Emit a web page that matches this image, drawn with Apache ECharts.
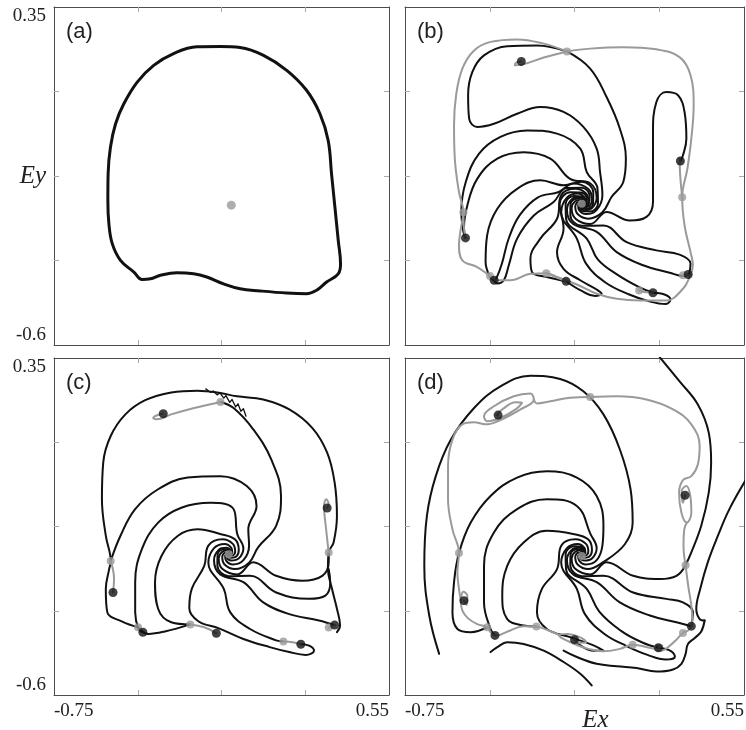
<!DOCTYPE html>
<html><head><meta charset="utf-8">
<script src="https://cdn.jsdelivr.net/npm/echarts@6.0.0/dist/echarts.min.js"></script>
<style>html,body{margin:0;padding:0;background:#fff}#chart{width:746px;height:730px}</style>
</head><body><div id="chart"></div>
<script>
// ---------- axis values ----------
const xTickValues = [-0.425, -0.1, 0.225];
const yTickValues = [0.1125, -0.125, -0.3625];
const xEndValues = [-0.75, 0.55];
const yEndValues = [0.35, -0.6];
const panelLabels = ['(a)', '(b)', '(c)', '(d)'];

// ---------- panel (a) ----------
const aLimitCycle = [[-0.105,0.239],[-0.028,0.236],[0.063,0.214],[0.153,0.172],[0.230,0.116],[0.282,0.050],[0.314,-0.025],[0.327,-0.119],[0.340,-0.212],[0.353,-0.306],[0.362,-0.372],[0.353,-0.400],[0.308,-0.423],[0.269,-0.446],[0.230,-0.456],[0.153,-0.454],[0.050,-0.448],[-0.028,-0.442],[-0.092,-0.428],[-0.157,-0.409],[-0.208,-0.400],[-0.273,-0.397],[-0.337,-0.404],[-0.376,-0.414],[-0.408,-0.416],[-0.440,-0.395],[-0.492,-0.362],[-0.524,-0.315],[-0.537,-0.259],[-0.541,-0.193],[-0.540,-0.119],[-0.531,-0.044],[-0.511,0.022],[-0.479,0.078],[-0.427,0.139],[-0.363,0.186],[-0.286,0.219],[-0.195,0.238],[-0.105,0.239]];
const aFixedPoint = [[-0.062,-0.207]];

// ---------- shared spiral core (read near the focus) ----------
const spiralCenter = [-0.072,-0.203];
const innerSpiralByDir = [
 [[-0.083,-0.195],[-0.099,-0.203],[-0.102,-0.225],[-0.072,-0.248],[-0.012,-0.247]],
 [[-0.086,-0.199],[-0.097,-0.211],[-0.088,-0.232],[-0.048,-0.245],[0.007,-0.227]],
 [[-0.088,-0.203],[-0.091,-0.217],[-0.072,-0.234],[-0.028,-0.235],[0.013,-0.203]],
 [[-0.086,-0.207],[-0.082,-0.221],[-0.056,-0.232],[-0.015,-0.220],[0.007,-0.179]],
 [[-0.083,-0.211],[-0.072,-0.223],[-0.042,-0.225],[-0.010,-0.203],[-0.012,-0.159]],
 [[-0.078,-0.213],[-0.062,-0.221],[-0.033,-0.215],[-0.015,-0.186],[-0.039,-0.146]],
 [[-0.072,-0.214],[-0.053,-0.217],[-0.029,-0.203],[-0.028,-0.171],[-0.072,-0.141]],
 [[-0.066,-0.213],[-0.047,-0.211],[-0.033,-0.191],[-0.048,-0.161],[-0.105,-0.146]],
 [[-0.061,-0.211],[-0.045,-0.203],[-0.042,-0.181],[-0.072,-0.158],[-0.132,-0.159]],
 [[-0.058,-0.207],[-0.047,-0.196],[-0.056,-0.174],[-0.096,-0.161],[-0.151,-0.179]],
 [[-0.057,-0.203],[-0.053,-0.189],[-0.072,-0.172],[-0.116,-0.171],[-0.157,-0.203]],
 [[-0.058,-0.199],[-0.062,-0.185],[-0.088,-0.174],[-0.129,-0.186],[-0.151,-0.227]],
 [[-0.061,-0.195],[-0.072,-0.183],[-0.102,-0.181],[-0.134,-0.203],[-0.132,-0.247]],
 [[-0.066,-0.193],[-0.082,-0.185],[-0.111,-0.191],[-0.129,-0.220],[-0.105,-0.260]],
 [[-0.072,-0.192],[-0.091,-0.189],[-0.115,-0.203],[-0.116,-0.235],[-0.072,-0.265]],
 [[-0.078,-0.193],[-0.097,-0.196],[-0.111,-0.215],[-0.096,-0.245],[-0.039,-0.260]]
];

// ---------- panel (b) ----------
const bArmDirs = [1,3,15,14,13,12,11,10,9,8,6,5,4,7];
const bArmPaths = [
 [[0.042,-0.184],[0.087,-0.142],[0.097,-0.076],[0.074,0.008],[0.023,0.097],[-0.040,0.177],[-0.129,0.225]],
 [[-0.002,-0.114],[-0.015,-0.048],[-0.066,0.013],[-0.142,0.055],[-0.231,0.069],[-0.320,0.050],[-0.409,0.022],[-0.473,0.013],[-0.504,0.036],[-0.508,0.102],[-0.492,0.167],[-0.447,0.214],[-0.358,0.240],[-0.244,0.242],[-0.129,0.225]],
 [[0.023,-0.226],[0.112,-0.250],[0.176,-0.240],[0.201,-0.198],[0.201,-0.114],[0.201,-0.001],[0.214,0.083],[0.252,0.111],[0.297,0.102],[0.322,0.055],[0.329,-0.020],[0.316,-0.067],[0.306,-0.083]],
 [[0.011,-0.264],[0.100,-0.311],[0.214,-0.334],[0.303,-0.346],[0.345,-0.371],[0.341,-0.396],[0.336,-0.402]],
 [[-0.015,-0.282],[0.062,-0.339],[0.163,-0.376],[0.265,-0.397],[0.316,-0.406],[0.336,-0.402]],
 [[-0.053,-0.301],[-0.010,-0.360],[0.070,-0.405],[0.150,-0.438],[0.201,-0.453]],
 [[-0.091,-0.301],[-0.055,-0.372],[0.020,-0.425],[0.110,-0.458],[0.190,-0.478],[0.250,-0.485],[0.268,-0.472],[0.245,-0.458],[0.201,-0.453]],
 [[-0.142,-0.273],[-0.167,-0.339],[-0.142,-0.386],[-0.078,-0.418],[-0.015,-0.444],[0.004,-0.456],[-0.021,-0.462],[-0.078,-0.446],[-0.132,-0.421]],
 [[-0.167,-0.245],[-0.231,-0.301],[-0.269,-0.357],[-0.263,-0.395],[-0.206,-0.409],[-0.132,-0.421]],
 [[-0.180,-0.198],[-0.256,-0.236],[-0.320,-0.301],[-0.352,-0.376],[-0.371,-0.418],[-0.396,-0.427],[-0.408,-0.418]],
 [[-0.142,-0.151],[-0.231,-0.137],[-0.320,-0.161],[-0.396,-0.217],[-0.435,-0.292],[-0.441,-0.367],[-0.424,-0.409],[-0.408,-0.418]],
 [[-0.117,-0.133],[-0.193,-0.076],[-0.295,-0.058],[-0.396,-0.076],[-0.473,-0.133],[-0.511,-0.208],[-0.524,-0.273],[-0.518,-0.299]],
 [[-0.053,-0.114],[-0.078,-0.048],[-0.167,-0.006],[-0.282,0.003],[-0.384,-0.015],[-0.466,-0.062],[-0.517,-0.142],[-0.534,-0.226],[-0.526,-0.282],[-0.518,-0.299]],
 [[-0.160,-0.170],[-0.240,-0.185],[-0.310,-0.235],[-0.352,-0.300],[-0.378,-0.370],[-0.398,-0.410],[-0.408,-0.418]]
];
const bGrayLoop = [[-0.129,0.225],[-0.040,0.233],[0.087,0.237],[0.214,0.231],[0.303,0.209],[0.345,0.158],[0.357,0.074],[0.348,-0.020],[0.333,-0.104],[0.313,-0.185],[0.322,-0.264],[0.345,-0.339],[0.354,-0.376],[0.341,-0.409],[0.316,-0.442],[0.252,-0.475],[0.151,-0.475],[0.062,-0.470],[-0.015,-0.456],[-0.091,-0.430],[-0.167,-0.409],[-0.208,-0.398],[-0.269,-0.400],[-0.346,-0.418],[-0.396,-0.418],[-0.424,-0.406],[-0.473,-0.381],[-0.530,-0.362],[-0.543,-0.320],[-0.536,-0.273],[-0.526,-0.227],[-0.543,-0.170],[-0.559,-0.076],[-0.562,0.017],[-0.554,0.102],[-0.530,0.177],[-0.485,0.228],[-0.422,0.252],[-0.320,0.259],[-0.218,0.247],[-0.129,0.225]];
const bGrayHook = [[-0.304,0.197],[-0.325,0.193],[-0.329,0.186],[-0.301,0.188],[-0.218,0.208],[-0.129,0.225]];
const bGrayRight = [[0.313,-0.185],[0.305,-0.120],[0.303,-0.075],[0.306,-0.083]];
const bGrayLeft = [[-0.526,-0.227],[-0.524,-0.270],[-0.518,-0.299]];
const bGrayMid = [[-0.208,-0.398],[-0.170,-0.410],[-0.132,-0.421]];
const bGrayLowRight = [[0.148,-0.447],[0.175,-0.452],[0.201,-0.453]];
const bGrayCorner = [[0.316,-0.404],[0.336,-0.402]];
const bBlackDots = [[-0.304,0.197],[0.306,-0.083],[-0.518,-0.299],[-0.408,-0.418],[-0.132,-0.421],[0.201,-0.453],[0.336,-0.402]];
const bGrayDots = [[-0.129,0.225],[0.313,-0.185],[-0.526,-0.227],[-0.424,-0.406],[-0.208,-0.398],[0.148,-0.447],[0.316,-0.404],[-0.072,-0.203]];

// ---------- panel (c) ----------
const cArmDirs = [1,3,5,7,9,11,13,14,15];
const cArmPaths = [
 [[0.042,-0.184],[0.112,-0.123],[0.131,-0.039],[0.093,0.064],[0.023,0.149],[-0.053,0.209],[-0.104,0.226]],
 [[0.004,-0.133],[0.036,-0.067],[-0.002,-0.011],[-0.104,0.017],[-0.231,0.013],[-0.346,-0.020],[-0.435,-0.076],[-0.492,-0.151],[-0.530,-0.222]],
 [[-0.053,-0.076],[-0.142,-0.058],[-0.256,-0.072],[-0.346,-0.114],[-0.409,-0.189],[-0.435,-0.282],[-0.435,-0.367],[-0.422,-0.414],[-0.405,-0.423]],
 [[-0.193,-0.133],[-0.269,-0.151],[-0.333,-0.208],[-0.358,-0.282],[-0.346,-0.357],[-0.295,-0.395],[-0.221,-0.401]],
 [[-0.167,-0.236],[-0.215,-0.300],[-0.225,-0.355],[-0.190,-0.392],[-0.110,-0.412],[-0.015,-0.442],[0.087,-0.465],[0.163,-0.479],[0.227,-0.487],[0.259,-0.475],[0.240,-0.461],[0.208,-0.457]],
 [[-0.091,-0.301],[-0.066,-0.367],[0.011,-0.414],[0.112,-0.446],[0.140,-0.449]],
 [[-0.015,-0.282],[0.062,-0.339],[0.163,-0.372],[0.278,-0.390],[0.339,-0.403]],
 [[0.011,-0.264],[0.112,-0.311],[0.240,-0.329],[0.303,-0.320],[0.322,-0.282],[0.316,-0.245]],
 [[0.023,-0.226],[0.112,-0.264],[0.214,-0.278],[0.291,-0.264],[0.316,-0.226],[0.316,-0.198]]
];
const cBoundary = [[-0.424,-0.409],[-0.485,-0.393],[-0.543,-0.367],[-0.549,-0.301],[-0.536,-0.245],[-0.530,-0.222],[-0.549,-0.151],[-0.564,-0.048],[-0.559,0.055],[-0.530,0.130],[-0.473,0.191],[-0.396,0.231],[-0.295,0.253],[-0.193,0.258],[-0.117,0.253],[-0.040,0.242],[0.062,0.233],[0.163,0.205],[0.252,0.153],[0.310,0.083],[0.339,-0.001],[0.348,-0.095],[0.335,-0.170],[0.316,-0.198],[0.313,-0.245],[0.329,-0.301],[0.348,-0.357],[0.360,-0.404],[0.348,-0.423]];
const cBottomLeft = [[-0.424,-0.409],[-0.384,-0.428],[-0.320,-0.421],[-0.221,-0.401]];
const cJagged = [[-0.161,0.263],[-0.142,0.253],[-0.132,0.257],[-0.117,0.246],[-0.106,0.252],[-0.091,0.237],[-0.083,0.244],[-0.068,0.225],[-0.059,0.233],[-0.045,0.212],[-0.036,0.221],[-0.025,0.200],[-0.015,0.207],[-0.005,0.186]];
const cGrayHook = [[-0.104,0.226],[-0.206,0.209],[-0.295,0.191],[-0.352,0.177],[-0.365,0.181],[-0.352,0.188],[-0.326,0.193]];
const cGrayRight = [[0.316,-0.198],[0.306,-0.133],[0.298,-0.067],[0.306,-0.048],[0.316,-0.062],[0.310,-0.073]];
const cGrayLeft = [[-0.530,-0.222],[-0.517,-0.273],[-0.521,-0.311]];
const cGrayMid = [[-0.221,-0.401],[-0.167,-0.409],[-0.120,-0.426]];
const cGrayLowRight = [[0.140,-0.449],[0.176,-0.451],[0.208,-0.457]];
const cGrayCorner = [[0.316,-0.410],[0.339,-0.403]];
const cBlackDots = [[-0.326,0.193],[0.310,-0.073],[-0.521,-0.311],[-0.405,-0.423],[-0.120,-0.426],[0.208,-0.457],[0.339,-0.403]];
const cGrayDots = [[-0.104,0.226],[0.316,-0.198],[-0.530,-0.222],[-0.424,-0.409],[-0.221,-0.401],[0.140,-0.449],[0.316,-0.410],[-0.072,-0.203]];

// ---------- panel (d) ----------
const dArmDirs = [1,3,5,7,9,11,12,13,14,15];
const dArmPaths = [
 [[0.093,-0.175],[0.123,-0.114],[0.115,-0.020],[0.074,0.092],[0.011,0.191],[-0.066,0.256],[-0.155,0.291],[-0.269,0.300],[-0.384,0.270],[-0.485,0.209],[-0.574,0.120],[-0.632,0.017],[-0.666,-0.095],[-0.676,-0.236],[-0.657,-0.376],[-0.619,-0.484]],
 [[0.011,-0.123],[-0.015,-0.039],[-0.091,0.013],[-0.206,0.031],[-0.320,0.013],[-0.422,-0.039],[-0.498,-0.114],[-0.543,-0.200],[-0.562,-0.282],[-0.568,-0.367],[-0.549,-0.414],[-0.498,-0.423],[-0.435,-0.409]],
 [[-0.091,-0.067],[-0.206,-0.048],[-0.320,-0.076],[-0.409,-0.142],[-0.447,-0.236],[-0.447,-0.339],[-0.422,-0.414],[-0.405,-0.432]],
 [[-0.206,-0.137],[-0.295,-0.170],[-0.358,-0.236],[-0.377,-0.320],[-0.358,-0.386],[-0.295,-0.404],[-0.246,-0.407]],
 [[-0.167,-0.245],[-0.225,-0.301],[-0.244,-0.367],[-0.206,-0.414],[-0.117,-0.437],[-0.027,-0.460],[0.011,-0.475],[-0.027,-0.475],[-0.078,-0.460],[-0.100,-0.444]],
 [[-0.091,-0.301],[-0.060,-0.372],[0.015,-0.428],[0.100,-0.462],[0.180,-0.487],[0.250,-0.500],[0.285,-0.492],[0.270,-0.476],[0.222,-0.467]],
 [[-0.053,-0.301],[-0.005,-0.365],[0.080,-0.420],[0.160,-0.452],[0.222,-0.467]],
 [[-0.015,-0.282],[0.074,-0.339],[0.189,-0.376],[0.291,-0.395],[0.348,-0.406]],
 [[0.011,-0.264],[0.125,-0.311],[0.252,-0.329],[0.316,-0.339],[0.354,-0.367],[0.348,-0.406]],
 [[0.023,-0.226],[0.125,-0.264],[0.227,-0.273],[0.291,-0.264],[0.326,-0.234]]
];
const dOuterTopRight = [[0.227,0.352],[0.303,0.284],[0.373,0.219],[0.415,0.139],[0.424,0.055],[0.415,-0.029],[0.386,-0.123],[0.348,-0.198],[0.326,-0.234]];
const dOuterRight = [[0.56,0.01],[0.494,-0.076],[0.450,-0.151],[0.411,-0.226],[0.382,-0.301],[0.367,-0.357],[0.380,-0.386],[0.399,-0.390]];
const dOuterBottomA = [[-0.034,-0.573],[-0.078,-0.540],[-0.142,-0.507],[-0.218,-0.475],[-0.295,-0.456],[-0.358,-0.451],[-0.396,-0.465],[-0.422,-0.479]];
const dOuterBottomB = [[0.399,-0.390],[0.386,-0.421],[0.360,-0.440],[0.335,-0.456],[0.326,-0.484],[0.310,-0.512],[0.278,-0.528],[0.214,-0.534],[0.138,-0.524],[0.062,-0.519],[-0.015,-0.512],[-0.091,-0.493],[-0.142,-0.475]];
const dGrayTopRight = [[-0.040,0.240],[0.062,0.242],[0.176,0.233],[0.278,0.205],[0.348,0.163],[0.380,0.102],[0.373,0.050],[0.348,0.017],[0.316,0.006],[0.301,-0.029],[0.310,-0.086],[0.331,-0.114],[0.348,-0.086],[0.344,-0.039],[0.329,-0.011],[0.311,-0.025],[0.316,-0.058],[0.324,-0.037]];
const dGrayRightUp = [[0.326,-0.234],[0.318,-0.179],[0.321,-0.133],[0.331,-0.114]];
const dGrayRightDown = [[0.326,-0.234],[0.336,-0.292],[0.348,-0.348],[0.352,-0.390],[0.339,-0.416],[0.316,-0.425],[0.291,-0.444],[0.259,-0.465],[0.233,-0.475],[0.208,-0.470],[0.214,-0.459],[0.237,-0.461],[0.222,-0.467]];
const dGrayBottom = [[0.208,-0.470],[0.170,-0.464],[0.123,-0.458],[0.074,-0.470],[0.011,-0.477],[-0.047,-0.470],[-0.091,-0.459],[-0.148,-0.440],[-0.161,-0.430],[-0.129,-0.428],[-0.072,-0.440],[-0.055,-0.451],[-0.085,-0.453],[-0.100,-0.444]];
const dGrayBottomLeft = [[-0.161,-0.430],[-0.206,-0.416],[-0.246,-0.407],[-0.295,-0.406],[-0.346,-0.418],[-0.384,-0.430],[-0.405,-0.432],[-0.424,-0.421],[-0.435,-0.409],[-0.473,-0.400],[-0.508,-0.384],[-0.530,-0.362],[-0.536,-0.334],[-0.526,-0.309],[-0.511,-0.320],[-0.513,-0.346],[-0.524,-0.334]];
const dGrayLeft = [[-0.536,-0.334],[-0.543,-0.301],[-0.549,-0.254],[-0.543,-0.200],[-0.568,-0.133],[-0.585,-0.048],[-0.585,0.045],[-0.568,0.120],[-0.530,0.163],[-0.485,0.169],[-0.441,0.163],[-0.384,0.175],[-0.307,0.205],[-0.256,0.233],[-0.269,0.250],[-0.333,0.242],[-0.409,0.214],[-0.447,0.186],[-0.435,0.172],[-0.384,0.181],[-0.326,0.205],[-0.301,0.224],[-0.326,0.225],[-0.377,0.205],[-0.399,0.188],[-0.393,0.189]];
const dGrayTop = [[-0.040,0.240],[-0.117,0.238],[-0.193,0.228],[-0.244,0.222],[-0.256,0.233]];
const dBlackDots = [[-0.393,0.189],[0.324,-0.037],[-0.524,-0.334],[-0.405,-0.432],[-0.100,-0.444],[0.222,-0.467],[0.348,-0.406]];
const dGrayDots = [[-0.040,0.240],[0.326,-0.234],[-0.543,-0.200],[-0.435,-0.409],[-0.246,-0.407],[0.123,-0.458],[0.316,-0.425],[-0.072,-0.208]];

// ---------- build chart ----------
const BLACK = '#111', GRAY = '#9a9a9a', FRAME = '#4d4d4d';
const grids = [
  {left:54, top:7, width:335, height:338},
  {left:405, top:7, width:339, height:338},
  {left:54, top:358, width:335, height:337},
  {left:405, top:358, width:339, height:337}
];
const serifFont = 'Liberation Serif';
function mkX(i, pos, lab, name) {
  return {gridIndex:i, type:'value', position:pos, min:-0.75, max:0.55,
    name:name, nameLocation:'middle', nameGap:13, nameMoveOverlap:false,
    nameTextStyle:{fontFamily:serifFont, fontStyle:'italic', fontSize:25, color:'#222', padding:[0,0,0,42]},
    axisLine:{show:true, onZero:false, lineStyle:{color:FRAME, width:1}},
    axisTick:{show:true, inside:true, length:5, customValues:xTickValues, lineStyle:{color:'#aaa', width:1}},
    axisLabel:{show:lab, customValues:xEndValues, formatter:v=>String(v), fontFamily:serifFont, fontSize:19, color:'#222', margin:7, alignMinLabel:'left', alignMaxLabel:'right'},
    splitLine:{show:false}};
}
function mkY(i, pos, lab, name) {
  return {gridIndex:i, type:'value', position:pos, min:-0.6, max:0.35,
    name:name, nameLocation:'middle', nameRotate:0, nameGap:8, nameMoveOverlap:false,
    nameTextStyle:{fontFamily:serifFont, fontStyle:'italic', fontSize:25, color:'#222'},
    axisLine:{show:true, onZero:false, lineStyle:{color:FRAME, width:1}},
    axisTick:{show:true, inside:true, length:5, customValues:yTickValues, lineStyle:{color:'#aaa', width:1}},
    axisLabel:{show:lab, customValues:yEndValues, formatter:v=>String(v), fontFamily:serifFont, fontSize:19, color:'#222', margin:8, verticalAlignMinLabel:'top', verticalAlignMaxLabel:'bottom'},
    splitLine:{show:false}};
}
const xAxes = [], yAxes = [];
grids.forEach((g, i) => {
  xAxes.push(mkX(i, 'bottom', i >= 2, i === 3 ? 'Ex' : ''));
  xAxes.push(mkX(i, 'top', false, ''));
  yAxes.push(mkY(i, 'left', i % 2 === 0, i === 0 ? 'Ey' : ''));
  yAxes.push(mkY(i, 'right', false, ''));
});

const series = [];
function addLine(gi, data, color, width, smooth) {
  series.push({type:'line', xAxisIndex:gi*2, yAxisIndex:gi*2, data:data,
    smooth: smooth === undefined ? 0.4 : smooth, symbol:'none', silent:true,
    lineStyle:{color:color, width:width, cap:'round', join:'round'}, z: color === GRAY ? 3 : 2});
}
function addDots(gi, data, color, size) {
  series.push({type:'scatter', xAxisIndex:gi*2, yAxisIndex:gi*2, data:data, symbolSize:size,
    itemStyle:{color:color}, z:6, silent:true});
}
function arm(dir, path) { return [spiralCenter].concat(innerSpiralByDir[dir], path); }

// (a)
addLine(0, aLimitCycle, BLACK, 3);
addDots(0, aFixedPoint, GRAY, 9);
// (b)
bArmPaths.forEach((p, k) => addLine(1, arm(bArmDirs[k], p), BLACK, 2));
[bGrayLoop, bGrayHook, bGrayRight, bGrayLeft, bGrayMid, bGrayLowRight, bGrayCorner].forEach(d => addLine(1, d, GRAY, 2));
addDots(1, bGrayDots, GRAY, 8);
addDots(1, bBlackDots, BLACK, 9);
// (c)
cArmPaths.forEach((p, k) => addLine(2, arm(cArmDirs[k], p), BLACK, 2));
addLine(2, cBoundary, BLACK, 2);
addLine(2, cBottomLeft, BLACK, 2);
addLine(2, cJagged, BLACK, 1.3, false);
[cGrayHook, cGrayRight, cGrayLeft, cGrayMid, cGrayLowRight, cGrayCorner].forEach(d => addLine(2, d, GRAY, 2));
addDots(2, cGrayDots, GRAY, 8);
addDots(2, cBlackDots, BLACK, 9);
// (d)
dArmPaths.forEach((p, k) => addLine(3, arm(dArmDirs[k], p), BLACK, 2));
[dOuterTopRight, dOuterRight, dOuterBottomA, dOuterBottomB].forEach(d => addLine(3, d, BLACK, 2));
[dGrayTopRight, dGrayRightUp, dGrayRightDown, dGrayBottom, dGrayBottomLeft, dGrayLeft, dGrayTop].forEach(d => addLine(3, d, GRAY, 2));
addDots(3, dGrayDots, GRAY, 8);
addDots(3, dBlackDots, BLACK, 9);

const chart = echarts.init(document.getElementById('chart'), null, {renderer:'canvas'});
chart.setOption({
  animation:false,
  backgroundColor:'#fff',
  grid: grids.map(g => Object.assign({containLabel:false, outerBoundsMode:'none'}, g)),
  xAxis: xAxes,
  yAxis: yAxes,
  graphic: panelLabels.map((t, i) => ({type:'text', left: grids[i].left + 12, top: grids[i].top + 14,
    style:{text:t, font:'22px "Liberation Sans"', fill:'#222'}})),
  series: series
});
</script></body></html>
